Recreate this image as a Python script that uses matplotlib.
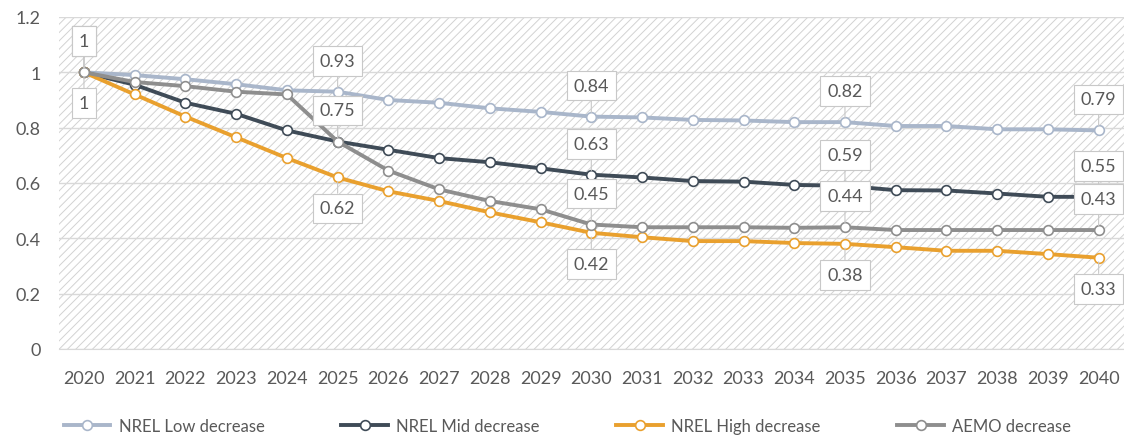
import numpy as np
import matplotlib.pyplot as plt
from matplotlib.patches import Rectangle

YEARS = [str(y) for y in range(2020, 2041)]

# cost factor relative to 2020
NREL_LOW = [1.0, 0.99, 0.975, 0.957, 0.935, 0.93, 0.90, 0.89, 0.87, 0.857, 0.84,
            0.837, 0.828, 0.826, 0.82, 0.82, 0.806, 0.806, 0.794, 0.794, 0.79]
NREL_MID = [1.0, 0.955, 0.89, 0.85, 0.79, 0.75, 0.72, 0.69, 0.675, 0.653, 0.63,
            0.62, 0.607, 0.605, 0.593, 0.59, 0.574, 0.573, 0.562, 0.55, 0.55]
NREL_HIGH = [1.0, 0.92, 0.84, 0.765, 0.69, 0.62, 0.57, 0.535, 0.494, 0.458, 0.42,
             0.404, 0.39, 0.39, 0.383, 0.38, 0.368, 0.355, 0.355, 0.343, 0.33]
AEMO = [1.0, 0.965, 0.95, 0.93, 0.92, 0.75, 0.645, 0.577, 0.535, 0.505, 0.45,
        0.44, 0.44, 0.44, 0.438, 0.44, 0.43, 0.43, 0.43, 0.43, 0.43]

SERIES_NAMES = ['NREL Low decrease', 'NREL Mid decrease', 'NREL High decrease', 'AEMO decrease']
SERIES_DATA = [NREL_LOW, NREL_MID, NREL_HIGH, AEMO]
SERIES_COLORS = ['#A9B6CA', '#3F4B57', '#E9A02E', '#8E8E8E']
LABEL_YEARS = [0, 5, 10, 15, 20]

TEXT_COLOR = '#595959'

plt.rcParams['font.family'] = ['Lato', 'DejaVu Sans']
plt.rcParams['hatch.linewidth'] = 0.7

fig = plt.figure(figsize=(11.24, 4.39), dpi=100)
ax = fig.add_axes([58.6 / 1124, 89 / 439, (1124 - 58.6) / 1124, 332 / 439])

# hatched plot area
ax.add_patch(Rectangle((0, 0), 1, 1, transform=ax.transAxes, facecolor='white',
                       edgecolor='#D2D2D2', hatch='////', linewidth=0, zorder=0))

x = np.arange(len(YEARS))
for name, values, color in zip(SERIES_NAMES, SERIES_DATA, SERIES_COLORS):
    ax.plot(x, values, color=color, lw=2.8, marker='o', markersize=7,
            markerfacecolor='white', markeredgecolor=color, markeredgewidth=1.2,
            label=name, zorder=3)

# data labels: high decrease below the line, the others above
for values, below in zip(SERIES_DATA, [False, False, True, False]):
    for i in LABEL_YEARS:
        v = values[i]
        txt = '1' if v == 1 else '%.2f' % v
        dy = -31 if below else 31
        ax.annotate(txt, xy=(x[i], v), xytext=(0, dy), textcoords='offset pixels',
                    ha='center', va='center', fontsize=13, color=TEXT_COLOR,
                    bbox=dict(boxstyle='square,pad=0.38', fc='white', ec='#C8C8C8', lw=0.8),
                    arrowprops=dict(arrowstyle='-', color='#C8C8C8', lw=0.8,
                                    shrinkA=0, shrinkB=3),
                    annotation_clip=False, zorder=5)

ax.set_xlim(-0.5, len(YEARS) - 0.5)
ax.set_ylim(0, 1.2)
ax.set_xticks(x)
ax.set_xticklabels(YEARS)
ax.set_yticks(np.arange(0, 1.21, 0.2))
ax.set_yticklabels(['0', '0.2', '0.4', '0.6', '0.8', '1', '1.2'])
ax.tick_params(length=0, labelsize=13, colors=TEXT_COLOR)
ax.tick_params(axis='x', pad=15)
ax.tick_params(axis='y', pad=13)
ax.grid(axis='y', color='#D9D9D9', lw=1)
ax.set_axisbelow(True)
for side in ['top', 'right', 'left']:
    ax.spines[side].set_visible(False)
ax.spines['bottom'].set_color('#D9D9D9')

fig.legend(loc='lower center', bbox_to_anchor=(0.505, -0.025), ncol=4, frameon=False,
           fontsize=12, labelcolor=TEXT_COLOR, handlelength=2.8, handletextpad=0.5,
           columnspacing=4.6)

fig.savefig('out.png', dpi=100)
